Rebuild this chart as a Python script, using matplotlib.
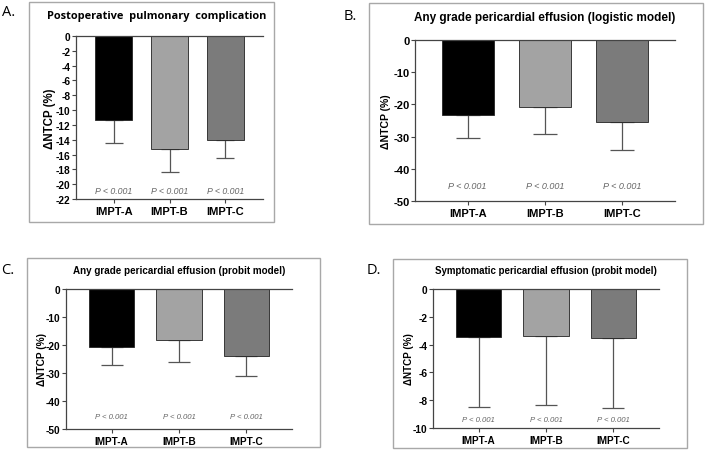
import matplotlib
matplotlib.use("Agg")
import matplotlib.pyplot as plt
from matplotlib.patches import Rectangle

plt.rcParams['font.family'] = ['Liberation Sans', 'DejaVu Sans']
plt.rcParams['axes.unicode_minus'] = False

categories = ["IMPT-A", "IMPT-B", "IMPT-C"]

# Panel A: Postoperative pulmonary complication
a_values = [-11.3, -15.3, -14.1]
a_err = [3.1, 3.0, 2.3]
# Panel B: Any grade pericardial effusion (logistic)
b_values = [-23.2, -20.8, -25.5]
b_err = [7.3, 8.5, 8.8]
# Panel C: Any grade pericardial effusion (probit)
c_values = [-20.8, -18.3, -24.0]
c_err = [6.2, 7.7, 7.0]
# Panel D: Symptomatic pericardial effusion (probit)
d_values = [-3.45, -3.4, -3.5]
d_err = [5.05, 4.95, 5.05]

p_label = "P < 0.001"
bar_colors = ["#000000", "#a3a3a3", "#7b7b7b"]

W, H = 708, 452
fig = plt.figure(figsize=(W / 100, H / 100), dpi=100)


def fx(x):
    return x / W


def fy(y):
    return 1 - y / H


panels = [
    dict(letter="A.", lpos=(9, 13), box=(29, 3, 274, 223),
         ax=(76, 37, 263, 200), title="Postoperative  pulmonary  complication",
         title_y=17, title_x=157, title_size=7.9, title_family=['Open Sans', 'DejaVu Sans'],
         values=a_values, err=a_err, ylim=(-22, 0), yticks=list(range(0, -23, -2)),
         p_y=-20.8, tick_size=7.3, xtick_size=8, ylabel_size=8.3, ylabel_x=50,
         cap=6.5, p_size=6.3),
    dict(letter="B.", lpos=(350, 17), box=(369, 4, 703, 225),
         ax=(415, 41, 675, 202), title="Any grade pericardial effusion (logistic model)",
         title_y=18, title_x=545, title_size=8.5, title_family=['Liberation Sans'],
         values=b_values, err=b_err, ylim=(-50, 0), yticks=list(range(0, -51, -10)),
         p_y=-45.3, tick_size=8, xtick_size=8, ylabel_size=7.6, ylabel_x=386,
         cap=8.5, p_size=6.5),
    dict(letter="C.", lpos=(8, 270), box=(27, 259, 320, 448),
         ax=(66, 290, 292, 430), title="Any grade pericardial effusion (probit model)",
         title_y=271, title_x=179, title_size=7.1, title_family=['Liberation Sans'],
         values=c_values, err=c_err, ylim=(-50, 0), yticks=list(range(0, -51, -10)),
         p_y=-45.7, tick_size=7.3, xtick_size=7.2, ylabel_size=7.3, ylabel_x=42,
         cap=8, p_size=5.6),
    dict(letter="D.", lpos=(374, 270), box=(393, 260, 687, 449),
         ax=(433, 290, 659, 429), title="Symptomatic pericardial effusion (probit model)",
         title_y=271, title_x=546, title_size=7.05, title_family=['Liberation Sans'],
         values=d_values, err=d_err, ylim=(-10, 0), yticks=list(range(0, -11, -2)),
         p_y=-9.4, tick_size=7.3, xtick_size=7.2, ylabel_size=7.1, ylabel_x=409,
         cap=8, p_size=5.6),
]

for p in panels:
    x0, y0, x1, y1 = p["box"]
    fig.patches.append(Rectangle((fx(x0), fy(y1)), fx(x1 - x0), (y1 - y0) / H,
                                 transform=fig.transFigure, fill=False,
                                 edgecolor="#a8a8a8", linewidth=1.0))
    fig.text(fx(p["lpos"][0]), fy(p["lpos"][1]), p["letter"], fontsize=10.5,
             family=['Open Sans', 'DejaVu Sans'], ha="center", va="center")
    fig.text(fx(p["title_x"]), fy(p["title_y"]), p["title"], fontsize=p["title_size"],
             fontweight="bold", family=p["title_family"], ha="center", va="center")

    ax0, ay0, ax1, ay1 = p["ax"]
    ax = fig.add_axes([fx(ax0), fy(ay1), fx(ax1 - ax0), (ay1 - ay0) / H])
    xs = list(range(len(categories)))
    ax.bar(xs, p["values"], width=0.67, color=bar_colors, edgecolor="#222222",
           linewidth=0.6, zorder=2)
    ax.errorbar(xs, p["values"], yerr=[p["err"], [0] * 3], fmt="none",
                ecolor="#555555", elinewidth=0.9, capsize=p["cap"], capthick=0.9, zorder=1)
    for x in xs:
        ax.text(x, p["p_y"], p_label, fontsize=p["p_size"], style="italic",
                color="#666666", ha="center", va="center")
    ax.set_xlim(-0.68, 2.68)
    ax.set_ylim(*p["ylim"])
    ax.set_yticks(p["yticks"])
    ax.set_yticklabels([str(t) for t in p["yticks"]], fontsize=p["tick_size"],
                       fontweight="bold")
    ax.set_xticks(xs)
    ax.set_xticklabels(categories, fontsize=p["xtick_size"], fontweight="bold")
    ax.spines["right"].set_visible(False)
    for s in ["left", "bottom", "top"]:
        ax.spines[s].set_color("#444444")
        ax.spines[s].set_linewidth(0.9)
    ax.tick_params(axis="y", length=3, width=0.8, color="#444444", pad=1)
    ax.tick_params(axis="x", length=3, width=0.8, color="#444444", pad=2)
    ax.set_facecolor("none")
    fig.text(fx(p["ylabel_x"]), fy((ay0 + ay1) / 2), "\u0394NTCP (%)",
             fontsize=p["ylabel_size"], fontweight="bold", rotation=90,
             ha="center", va="center")

fig.savefig("out.png", dpi=100)
